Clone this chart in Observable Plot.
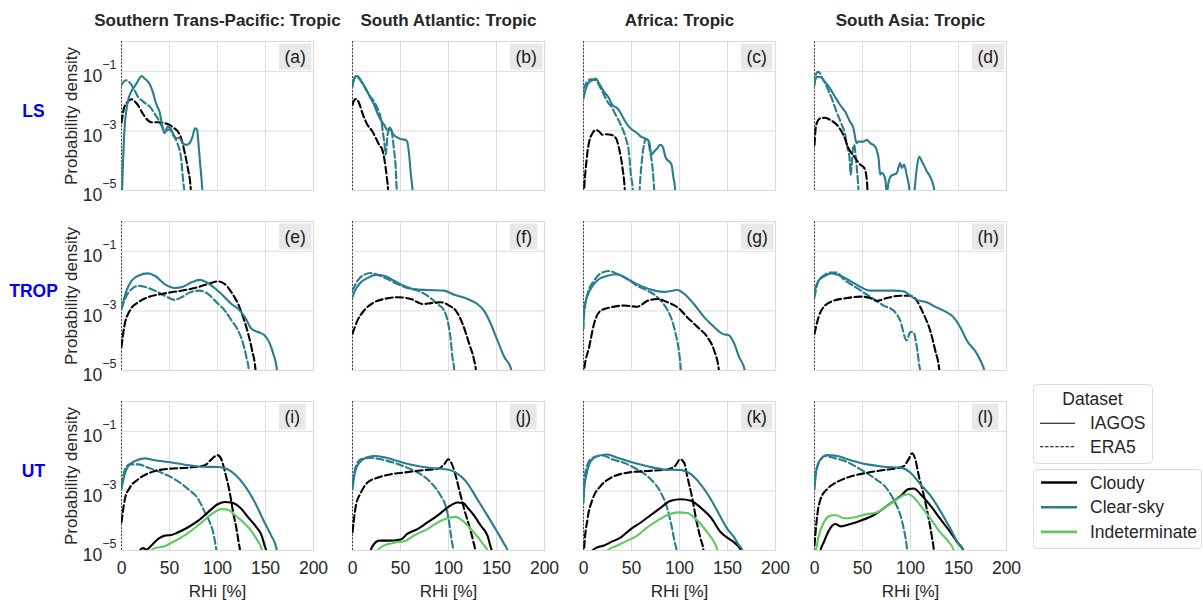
<!DOCTYPE html>
<html>
<head>
<meta charset="utf-8">
<script src="https://cdn.jsdelivr.net/npm/d3@7"></script>
<script src="https://cdn.jsdelivr.net/npm/@observablehq/plot@0.6"></script>
<style>
  html, body { margin: 0; padding: 0; background: white; }
  #wrap { position: relative; width: 1203px; height: 600px; font-family: 'Liberation Sans', Arial, sans-serif; }
  #legend { position: absolute; left: 1020px; top: 375px; }
</style>
</head>
<body>
<div id="wrap"></div>
<script>
// ---------------- DATA ----------------
const regions = ["Southern Trans-Pacific: Tropic", "South Atlantic: Tropic", "Africa: Tropic", "South Asia: Tropic"];
const layers = ["LS", "TROP", "UT"];
const panelLetters = [["a","b","c","d"],["e","f","g","h"],["i","j","k","l"]];
const classes = ["Cloudy", "Clear-sky", "Indeterminate"];
const classColors = ["#000000", "#287d8e", "#5ec962"];
const datasets = ["IAGOS", "ERA5"];
const xTicks = [0, 50, 100, 150, 200];
const yTicks = [1e-1, 1e-3, 1e-5];

// each series: [RHi %, log10(probability density)]
// (a) LS, Southern Trans-Pacific
const a_clear_iagos = [[0,-5.6],[1,-4.6],[3,-3.0],[6.6,-2.02],[10,-1.69],[13.5,-1.52],[17,-1.33],[21,-1.16],[24,-1.24],[29,-1.41],[32.6,-1.69],[36,-2.08],[39.6,-2.36],[43,-2.91],[44.8,-3.08],[48,-2.86],[51,-2.91],[53.5,-3.08],[57,-3.24],[60,-3.24],[64,-3.41],[67,-3.47],[71,-3.41],[74,-3.19],[76.7,-2.91],[78.8,-2.97],[80,-3.36],[82,-4.13],[84,-4.9],[85,-5.6]];
const a_clear_era5 = [[0,-1.45],[3,-1.33],[6,-1.3],[9,-1.4],[13,-1.6],[17,-1.85],[22,-2.0],[26,-2.1],[30,-2.2],[34,-2.4],[38,-2.6],[42,-2.85],[46,-3.0],[50,-2.95],[54,-3.15],[58,-3.4],[62,-3.9],[64,-4.6],[66,-5.2],[67,-5.6]];
const a_cloudy_era5 = [[0,-2.72],[3,-2.19],[6.6,-2.02],[10,-1.94],[13.5,-2.0],[17,-2.13],[22,-2.41],[27,-2.63],[31,-2.71],[38,-2.71],[45,-2.74],[50,-2.8],[55,-2.91],[58.7,-3.02],[62,-3.24],[65.6,-3.69],[69,-4.24],[72,-4.9],[73,-5.6]];
// (b) LS, South Atlantic
const b_clear_iagos = [[0,-1.52],[2.4,-1.19],[5.2,-1.16],[8.7,-1.3],[13.9,-1.58],[19,-1.91],[22.6,-2.13],[26,-2.41],[29.5,-2.63],[33,-2.8],[36.5,-2.97],[39,-2.89],[41.7,-3.08],[45,-3.19],[50,-3.27],[55,-3.3],[57,-3.36],[59,-3.8],[60.8,-4.47],[62.5,-4.97],[63.5,-5.6]];
const b_clear_era5 = [[0,-1.41],[3.5,-1.19],[7,-1.25],[12,-1.5],[17,-1.78],[22.6,-2.02],[26.7,-2.3],[29.5,-2.58],[31.5,-3.0],[33,-3.36],[34.7,-3.8],[36.5,-3.13],[39,-2.91],[41,-3.05],[43,-3.58],[45,-4.24],[46,-4.97],[47,-5.6]];
const b_cloudy_era5 = [[0,-2.13],[1.7,-1.97],[4,-1.93],[7,-2.08],[10.4,-2.41],[15.6,-2.8],[20.8,-3.02],[24.3,-3.24],[27.8,-3.47],[31,-3.63],[33,-3.91],[35.8,-4.58],[37,-4.97],[37.5,-5.6]];
// (c) LS, Africa
const c_clear_iagos = [[0,-1.91],[2.4,-1.58],[5.9,-1.36],[9.4,-1.3],[12.8,-1.24],[16.3,-1.41],[21.5,-1.69],[26.7,-1.91],[30,-2.13],[32.6,-2.19],[35.4,-2.24],[40.6,-2.52],[45.8,-2.8],[51,-2.97],[56,-3.08],[59.7,-3.19],[63,-3.24],[66.7,-3.3],[68.4,-3.36],[70.8,-3.8],[73.6,-3.69],[77,-3.58],[79.9,-3.47],[82.3,-3.52],[85.8,-3.91],[89,-4.02],[91.7,-4.13],[93.75,-4.58],[95.5,-4.97],[96.5,-5.6]];
const c_clear_era5 = [[0,-1.58],[3.5,-1.36],[7.6,-1.27],[12.8,-1.3],[18,-1.58],[25,-2.02],[30,-2.24],[33.7,-2.47],[38.9,-2.8],[44,-3.24],[47.6,-3.8],[49.3,-4.47],[51.4,-4.97],[53,-6],[57,-6],[58.5,-4.97],[61.5,-3.8],[65,-3.27],[66.7,-3.3],[69.4,-3.69],[71.9,-4.24],[73.6,-4.97],[74.5,-5.6]];
const c_cloudy_era5 = [[0,-5.6],[0.7,-4.97],[2.4,-4.24],[5.9,-3.36],[9.4,-3.08],[12.8,-2.97],[16.3,-3.02],[19.8,-3.13],[23.3,-3.11],[28.5,-3.13],[33.7,-3.24],[37,-3.58],[40.6,-4.24],[43,-4.97],[44,-5.6]];
// (d) LS, South Asia
const d_clear_iagos = [[0,-1.36],[2.4,-1.19],[5.9,-1.19],[11,-1.36],[16.3,-1.58],[21.5,-1.86],[26.7,-2.13],[32,-2.36],[37,-2.69],[40.6,-2.91],[42.4,-3.24],[44,-3.41],[45.8,-3.36],[51,-3.36],[54.5,-3.3],[58,-3.41],[63,-3.52],[66.7,-3.91],[68.4,-4.47],[70,-4.41],[73.6,-4.6],[75.3,-5.1],[77,-4.74],[79.5,-4.52],[82.3,-4.47],[85.8,-4.41],[89.2,-4.08],[91,-4.24],[93.4,-4.13],[96,-4.47],[98.6,-4.91],[100.5,-5.6],[102.5,-5.6],[104.5,-4.9],[106.6,-4.24],[109,-3.86],[111.8,-4.02],[114.6,-4.19],[117,-4.36],[119.4,-4.47],[121,-4.58],[123,-4.74],[124.6,-4.97],[125.5,-5.6]];
const d_clear_era5 = [[0,-1.47],[1.7,-1.08],[4.2,-1.02],[7.6,-1.19],[12.8,-1.52],[18,-1.91],[23,-2.36],[28.5,-2.8],[32,-3.13],[34.4,-3.58],[36.5,-3.91],[37.8,-4.47],[38.6,-4.2],[40,-3.6],[41.3,-3.47],[43.4,-4.02],[45,-4.6],[45.8,-4.97],[46.5,-5.6]];
const d_cloudy_era5 = [[0,-3.47],[1.7,-2.8],[5.9,-2.58],[11,-2.56],[16.3,-2.63],[25,-2.86],[30,-3.13],[35.4,-3.58],[42.4,-3.91],[47.6,-4.13],[51.7,-4.24],[53.8,-4.47],[55.2,-4.97],[56,-5.6]];
// (e) TROP, Southern Trans-Pacific
const e_clear_iagos = [[0,-2.93],[5.2,-2.32],[10.4,-1.99],[17.4,-1.82],[27.8,-1.74],[34.7,-1.82],[45,-2.1],[55.6,-2.23],[64,-2.19],[73,-2.04],[81.6,-1.96],[88.5,-2.04],[97,-2.23],[106,-2.49],[114.6,-2.77],[121.5,-2.93],[128.5,-3.21],[135.4,-3.6],[142.4,-3.71],[149,-3.82],[154.5,-4.1],[158,-4.43],[161.5,-4.88],[163,-5.6]];
const e_clear_era5 = [[0,-2.93],[5.2,-2.49],[10.4,-2.27],[17.4,-2.16],[24,-2.19],[34.7,-2.32],[45,-2.49],[55.6,-2.63],[62.5,-2.54],[73,-2.36],[81.6,-2.32],[90,-2.43],[99,-2.71],[107.6,-2.99],[114.6,-3.32],[121.5,-3.66],[126.7,-4.1],[130,-4.54],[132.6,-4.99],[133.5,-5.6]];
const e_cloudy_era5 = [[0,-4.21],[2.8,-3.54],[8.7,-2.99],[17.4,-2.71],[27.8,-2.54],[41.7,-2.43],[59,-2.34],[76.4,-2.23],[90,-2.1],[100.7,-2.01],[107.6,-2.1],[114.6,-2.38],[121.5,-2.77],[126.7,-3.21],[132,-3.77],[136,-4.32],[139.6,-4.99],[140.5,-5.6]];
// (f) TROP, South Atlantic
const f_clear_iagos = [[0,-2.54],[3.5,-2.27],[8.7,-2.04],[15.6,-1.9],[24.3,-1.79],[33,-1.82],[43.4,-1.99],[53.8,-2.16],[64,-2.27],[78,-2.3],[95.5,-2.32],[106,-2.46],[119.8,-2.6],[130,-2.77],[137,-2.99],[144,-3.43],[151,-3.99],[158,-4.54],[165,-4.93],[167,-5.6]];
const f_clear_era5 = [[0,-2.32],[5.2,-1.99],[12,-1.79],[19,-1.73],[26,-1.79],[36.5,-1.93],[47,-2.1],[57,-2.23],[67.7,-2.32],[78,-2.49],[88.5,-2.77],[95.5,-2.99],[99,-3.32],[102.4,-3.99],[104,-4.54],[106,-4.99],[107,-5.6]];
const f_cloudy_era5 = [[0,-3.77],[5.2,-3.32],[12,-2.99],[22.6,-2.71],[33,-2.6],[47,-2.54],[60.8,-2.6],[73,-2.77],[81.6,-2.74],[92,-2.71],[100.7,-2.82],[107.6,-2.99],[114.6,-3.43],[121.5,-4.1],[126.7,-4.66],[128.5,-4.99],[129.5,-5.6]];
// (g) TROP, Africa
const g_clear_iagos = [[0,-3.3],[0.7,-2.93],[4.2,-2.49],[9.4,-2.16],[16.3,-1.93],[25,-1.82],[35.4,-1.77],[45.8,-1.93],[59.7,-2.16],[74.3,-2.32],[84,-2.36],[98,-2.3],[104.9,-2.43],[115,-2.77],[125.7,-3.21],[136,-3.54],[144.8,-3.77],[151.7,-3.82],[157,-4.1],[162,-4.54],[168,-4.99],[169,-5.6]];
const g_clear_era5 = [[0,-3.6],[0.7,-3.1],[4.2,-2.43],[11,-1.99],[18,-1.74],[26.7,-1.66],[35.4,-1.77],[45.8,-1.93],[56,-2.16],[66.7,-2.32],[77,-2.54],[85.8,-2.88],[91,-3.21],[96,-3.77],[99.7,-4.43],[101.4,-4.99],[102.4,-5.6]];
const g_cloudy_era5 = [[0,-5.6],[0.7,-4.99],[5.9,-4.21],[11,-3.43],[18,-2.99],[28.5,-2.88],[42.4,-2.82],[56,-2.86],[66.7,-2.66],[77,-2.6],[87.5,-2.71],[98,-2.88],[108,-3.21],[118.75,-3.54],[129,-3.88],[136,-4.32],[141,-4.99],[142,-5.6]];
// (h) TROP, South Asia
const h_clear_iagos = [[0,-2.32],[4.2,-1.99],[11,-1.82],[18,-1.74],[26.7,-1.82],[37,-1.99],[47.6,-2.19],[58,-2.32],[68.4,-2.32],[82.3,-2.32],[92.7,-2.34],[99.7,-2.49],[106.6,-2.63],[117,-2.71],[125.7,-2.86],[134.4,-2.99],[144.8,-3.21],[151.7,-3.54],[158.7,-3.99],[169,-4.43],[174.3,-4.77],[176.7,-4.99],[178,-5.6]];
const h_clear_era5 = [[0,-2.54],[4.2,-1.99],[9.4,-1.82],[16.3,-1.71],[23.3,-1.71],[30,-1.93],[40.6,-2.16],[51,-2.38],[61.5,-2.6],[71.9,-2.82],[82.3,-2.99],[89.2,-3.32],[96,-3.99],[99.7,-3.71],[103,-3.71],[106.6,-4.21],[109.4,-4.88],[110,-4.99],[111,-5.6]];
const h_cloudy_era5 = [[0,-3.77],[4.2,-3.21],[11,-2.82],[19.8,-2.66],[33.7,-2.57],[47.6,-2.52],[58,-2.57],[65,-2.66],[75.3,-2.57],[89.2,-2.49],[99.7,-2.49],[106.6,-2.66],[113.5,-3.1],[120.5,-3.66],[125.7,-4.32],[130,-4.99],[131,-5.6]];
// (i) UT, Southern Trans-Pacific
const i_clear_iagos = [[0,-2.94],[2.8,-2.5],[7,-2.17],[13.9,-2],[24.3,-1.91],[34.7,-1.97],[48.6,-2.03],[66,-2.12],[83.3,-2.19],[100.7,-2.2],[111,-2.28],[118,-2.44],[128.5,-2.83],[139,-3.39],[149,-4.06],[156,-4.5],[161.5,-4.94],[163,-5.6]];
const i_clear_era5 = [[0,-2.83],[3.5,-2.28],[8.7,-2.11],[17.4,-2.11],[27.8,-2.22],[41.7,-2.39],[55.6,-2.61],[69.4,-2.94],[80,-3.28],[86.8,-3.72],[92,-4.06],[95.5,-4.39],[98,-4.83],[99,-5.06],[99.8,-5.6]];
const i_cloudy_era5 = [[0,-4.06],[3.5,-3.28],[8.7,-2.89],[17.4,-2.61],[31.25,-2.37],[48.6,-2.26],[69.4,-2.22],[86.8,-2.14],[93.75,-1.94],[100,-1.8],[104,-1.94],[108,-2.39],[112.8,-3.06],[116.3,-3.72],[119.8,-4.28],[122,-4.72],[123.6,-5.06],[124.5,-5.6]];
const i_cloudy_iagos = [[17,-5.6],[19,-5],[22.6,-4.92],[26,-4.97],[31.25,-4.83],[38.2,-4.61],[45,-4.5],[52,-4.48],[59,-4.39],[69.4,-4.22],[80,-4],[90,-3.72],[100.7,-3.44],[107.6,-3.37],[114.6,-3.39],[125,-3.61],[132,-3.89],[140.6,-4.22],[146,-4.5],[149,-4.83],[151,-5.06],[152,-5.6]];
const i_indet_iagos = [[27,-5.6],[29.5,-5.06],[34.7,-4.92],[45,-4.86],[52,-4.74],[62.5,-4.56],[73,-4.33],[83.3,-4.06],[93.75,-3.78],[104,-3.61],[111,-3.63],[118,-3.81],[125,-4],[133.7,-4.28],[140.6,-4.61],[146,-4.94],[147,-5.06],[148,-5.6]];
// (j) UT, South Atlantic
const j_clear_iagos = [[0,-2.94],[2.4,-2.39],[7,-2.06],[13.9,-1.89],[22.6,-1.83],[33,-1.87],[47,-2],[64,-2.14],[81.6,-2.23],[99,-2.28],[107.6,-2.39],[118,-2.67],[130,-3.28],[140.6,-3.83],[151,-4.39],[158,-4.78],[161.5,-5],[163,-5.6]];
const j_clear_era5 = [[0,-2.72],[3.5,-2.17],[8.7,-1.94],[19,-1.89],[29.5,-1.94],[43.4,-2.06],[57,-2.22],[71,-2.44],[81.6,-2.72],[92,-3.17],[97,-3.5],[100.7,-4.06],[103,-4.61],[104.9,-5],[106,-5.6]];
const j_cloudy_era5 = [[0,-4.39],[3.5,-3.5],[8.7,-3.06],[15.6,-2.72],[26,-2.56],[40,-2.44],[57,-2.37],[74.7,-2.3],[88.5,-2.26],[95.5,-2.11],[99.7,-1.94],[103,-2.06],[106.6,-2.39],[111,-2.94],[116.3,-3.61],[121.5,-4.17],[126,-4.72],[127.8,-5],[129,-5.6]];
const j_cloudy_iagos = [[17,-5.6],[19,-5],[22.6,-4.78],[27.8,-4.67],[36.5,-4.67],[50.3,-4.63],[57,-4.44],[67.7,-4.28],[78,-4.06],[88.5,-3.83],[99,-3.56],[109.4,-3.39],[115.6,-3.41],[119.8,-3.56],[126.7,-3.83],[133.7,-4.17],[140.6,-4.5],[144,-4.89],[145,-5],[146,-5.6]];
const j_indet_iagos = [[24,-5.6],[26,-5],[33,-4.83],[43.4,-4.74],[55.6,-4.67],[64,-4.5],[78,-4.28],[92,-4],[102.4,-3.89],[107.6,-3.87],[114.6,-4],[123.3,-4.28],[132,-4.61],[137,-4.83],[140.6,-5],[141.5,-5.6]];
// (k) UT, Africa
const k_clear_iagos = [[0,-3.4],[0.7,-2.94],[3.5,-2.39],[7.6,-2],[14.6,-1.83],[25,-1.78],[35.4,-1.89],[49.3,-2.03],[66.7,-2.17],[84,-2.28],[101.4,-2.3],[111.8,-2.44],[122,-2.78],[132.6,-3.28],[143,-3.89],[150,-4.28],[157,-4.56],[162,-4.83],[165.6,-5],[167,-5.6]];
const k_clear_era5 = [[0,-3.2],[0.7,-2.72],[4.2,-2.11],[9.4,-1.89],[19.8,-1.81],[30,-1.94],[42.4,-2.06],[56,-2.28],[70,-2.61],[80.6,-3.06],[87.5,-3.61],[91.7,-4.17],[95,-4.72],[97,-5],[98,-5.6]];
const k_cloudy_era5 = [[0,-5.6],[0.7,-4.94],[4.2,-3.94],[9.4,-3.28],[18,-2.83],[28.5,-2.56],[45.8,-2.39],[66.7,-2.33],[87.5,-2.28],[96,-2.14],[100.7,-1.94],[104.9,-2.06],[108,-2.5],[113.5,-3.28],[118,-4.06],[122,-4.61],[125,-5],[126,-5.6]];
const k_cloudy_iagos = [[7.5,-5.6],[9.4,-5],[14.6,-4.89],[21.5,-4.83],[28.5,-4.72],[38.9,-4.56],[49.3,-4.28],[59.7,-4.06],[70,-3.81],[80.6,-3.56],[91,-3.33],[101.4,-3.28],[111.8,-3.33],[122,-3.56],[132.6,-3.89],[143,-4.39],[151.7,-4.61],[158.7,-4.78],[163.9,-5],[165,-5.6]];
const k_indet_iagos = [[23,-5.6],[25,-5],[35.4,-4.83],[45.8,-4.67],[56,-4.5],[66.7,-4.22],[77,-4],[87.5,-3.81],[98,-3.72],[108.3,-3.74],[115,-3.89],[122,-4.11],[129,-4.39],[136,-4.72],[139.6,-5],[140.5,-5.6]];
// (l) UT, South Asia
const l_clear_iagos = [[0,-2.94],[2,-2.28],[6.25,-1.94],[13.2,-1.8],[23.6,-1.83],[37.5,-1.97],[55,-2.11],[72,-2.19],[89.6,-2.22],[100,-2.39],[110.4,-2.78],[121,-3.17],[131,-3.67],[141.7,-4.28],[150,-4.78],[155,-5],[156,-5.6]];
const l_clear_era5 = [[0,-2.61],[4.5,-2.06],[11.5,-1.83],[20,-1.89],[34,-2.03],[48,-2.28],[61.8,-2.56],[75.7,-2.94],[84,-3.39],[89.6,-3.83],[93,-4.28],[95.5,-4.72],[96.5,-5],[97.5,-5.6]];
const l_cloudy_era5 = [[0,-4.83],[2.8,-3.83],[6.25,-3.28],[13.2,-2.94],[23.6,-2.7],[37.5,-2.52],[55,-2.39],[72,-2.3],[86,-2.24],[93,-2.17],[98,-1.94],[101.7,-1.74],[105,-1.94],[108.7,-2.5],[114,-3.17],[119,-3.94],[122.6,-4.61],[124.3,-5],[125,-5.6]];
const l_cloudy_iagos = [[5,-5.6],[6.25,-5],[9.7,-4.72],[15,-4.33],[18.4,-4.17],[21.9,-4.11],[27,-4.19],[37.5,-4.11],[48,-4],[61.8,-3.81],[75.7,-3.5],[89.6,-3.17],[98,-2.94],[103.5,-2.92],[110.4,-3.11],[121,-3.5],[131,-3.94],[141.7,-4.39],[148.6,-4.72],[155,-5],[156,-5.6]];
const l_indet_iagos = [[0,-5.3],[4.5,-4.5],[9.7,-4.06],[16.7,-3.83],[21.9,-3.81],[30.6,-3.92],[41,-3.89],[55,-3.78],[65.3,-3.72],[75.7,-3.5],[86,-3.28],[93,-3.14],[98,-3.11],[103.5,-3.22],[112,-3.56],[121,-3.94],[131,-4.39],[140,-4.72],[145,-5],[146,-5.6]];

// ---------------- TABLE ----------------
const panelSeries = {
  a: {clear_iagos: a_clear_iagos, clear_era5: a_clear_era5, cloudy_era5: a_cloudy_era5},
  b: {clear_iagos: b_clear_iagos, clear_era5: b_clear_era5, cloudy_era5: b_cloudy_era5},
  c: {clear_iagos: c_clear_iagos, clear_era5: c_clear_era5, cloudy_era5: c_cloudy_era5},
  d: {clear_iagos: d_clear_iagos, clear_era5: d_clear_era5, cloudy_era5: d_cloudy_era5},
  e: {clear_iagos: e_clear_iagos, clear_era5: e_clear_era5, cloudy_era5: e_cloudy_era5},
  f: {clear_iagos: f_clear_iagos, clear_era5: f_clear_era5, cloudy_era5: f_cloudy_era5},
  g: {clear_iagos: g_clear_iagos, clear_era5: g_clear_era5, cloudy_era5: g_cloudy_era5},
  h: {clear_iagos: h_clear_iagos, clear_era5: h_clear_era5, cloudy_era5: h_cloudy_era5},
  i: {clear_iagos: i_clear_iagos, clear_era5: i_clear_era5, cloudy_era5: i_cloudy_era5, cloudy_iagos: i_cloudy_iagos, indet_iagos: i_indet_iagos},
  j: {clear_iagos: j_clear_iagos, clear_era5: j_clear_era5, cloudy_era5: j_cloudy_era5, cloudy_iagos: j_cloudy_iagos, indet_iagos: j_indet_iagos},
  k: {clear_iagos: k_clear_iagos, clear_era5: k_clear_era5, cloudy_era5: k_cloudy_era5, cloudy_iagos: k_cloudy_iagos, indet_iagos: k_indet_iagos},
  l: {clear_iagos: l_clear_iagos, clear_era5: l_clear_era5, cloudy_era5: l_cloudy_era5, cloudy_iagos: l_cloudy_iagos, indet_iagos: l_indet_iagos}
};
const seriesKeys = {cloudy_iagos: [0, 0], cloudy_era5: [0, 1], clear_iagos: [1, 0], clear_era5: [1, 1], indet_iagos: [2, 0]};

const rows = [];
const panels = [];
layers.forEach((layer, r) => regions.forEach((region, c) => {
  const letter = panelLetters[r][c];
  panels.push({region, layer, letter: `(${letter})`});
  for (const [key, pts] of Object.entries(panelSeries[letter])) {
    const [ci, di] = seriesKeys[key];
    for (const [x, lg] of pts) rows.push({region, layer, panel: letter, cls: classes[ci], ds: datasets[di], x, y: Math.pow(10, lg)});
  }
}));

const font = "'Liberation Sans', Arial, sans-serif";
const grid = "#dcdcdc";

function lineMark(ci, di) {
  return Plot.line(rows.filter(d => d.cls === classes[ci] && d.ds === datasets[di]), {
    x: "x", y: "y", fx: "region", fy: "layer", z: "panel",
    stroke: classColors[ci], strokeWidth: 2.1,
    strokeDasharray: di === 1 ? "7,3.3" : null,
    curve: "monotone-x", clip: true
  });
}

const chart = Plot.plot({
  width: 1203, height: 600,
  marginLeft: 120, marginRight: 196, marginTop: 40, marginBottom: 49,
  style: {fontFamily: font, fontSize: "17px", color: "#262626", background: "white", overflow: "visible"},
  x: {domain: [0, 200]},
  y: {type: "log", domain: [1e-5, 1]},
  fx: {domain: regions, paddingInner: 0.169, paddingOuter: 0, axis: null, label: null},
  fy: {domain: layers, paddingInner: 0.171, paddingOuter: 0, axis: null, label: null},
  marks: [
    Plot.gridX({ticks: xTicks.slice(1, -1), stroke: grid, strokeOpacity: 1, strokeWidth: 1}),
    Plot.gridY({ticks: yTicks.slice(0, -1), stroke: grid, strokeOpacity: 1, strokeWidth: 1}),
    Plot.frame({stroke: grid, strokeWidth: 1.2}),
    Plot.axisX({ticks: xTicks, tickSize: 0, tickPadding: 11, label: null, fontSize: 17.5}),
    Plot.axisY({ticks: yTicks, tickSize: 0, tickPadding: 5, label: null, fontSize: 17.5, dy: 5, tickFormat: d => String(Math.round(Math.log10(d)))}),
    Plot.ruleX([0], {stroke: "#222", strokeWidth: 0.8, strokeDasharray: "2,1.5"}),
    lineMark(1, 1),
    lineMark(0, 1),
    lineMark(0, 0),
    lineMark(2, 0),
    lineMark(1, 0),
    // panel letters
    Plot.text(panels, {fx: "region", fy: "layer", text: "letter", frameAnchor: "top-right", dx: -29, dy: 15.5,
      textAnchor: "start", lineAnchor: "middle", fontSize: 17.5, fill: "#1a1a1a"}),
    // column titles
    Plot.text(panels.filter(p => p.layer === layers[0]), {fx: "region", fy: "layer", text: "region", frameAnchor: "top",
      dy: -21, lineAnchor: "middle", fontWeight: "bold", fontSize: 17, fill: "#262626"}),
    // row labels
    Plot.text(panels.filter(p => p.region === regions[0]), {fx: "region", fy: "layer", text: "layer", frameAnchor: "left",
      dx: -88, dy: -5, textAnchor: "middle", lineAnchor: "middle", fontWeight: "bold", fontSize: 17.5, fill: "#0000ff"}),
    // y label
    Plot.text(panels.filter(p => p.region === regions[0]), {fx: "region", fy: "layer", text: () => "Probability density",
      frameAnchor: "left", dx: -50, rotate: -90, textAnchor: "middle", lineAnchor: "middle", fontSize: 17, fill: "#262626"}),
    // x label
    Plot.text(panels.filter(p => p.layer === layers[2]), {fx: "region", fy: "layer", text: () => "RHi [%]",
      frameAnchor: "bottom", dy: 41, textAnchor: "middle", lineAnchor: "middle", fontSize: 17, fill: "#262626"})
  ]
});

const wrap = document.getElementById("wrap");
wrap.appendChild(chart);
const ns = "http://www.w3.org/2000/svg";

// superscript exponent tick labels: 10^{-n}
chart.querySelectorAll('g[aria-label="y-axis tick label"] text').forEach(t => {
  const e = t.textContent;
  t.textContent = "";
  const base = document.createElementNS(ns, "tspan");
  base.textContent = "10";
  const sup = document.createElementNS(ns, "tspan");
  sup.textContent = e.replace("-", "\u2212");
  sup.setAttribute("font-size", "12.5");
  sup.setAttribute("dy", "-13");
  t.appendChild(base); t.appendChild(sup);
});

// grey boxes behind panel letters
const letterSet = new Set(panels.map(p => p.letter));
chart.querySelectorAll('text').forEach(t => {
  if (!letterSet.has(t.textContent)) return;
  const b = t.getBBox();
  const r = document.createElementNS(ns, "rect");
  r.setAttribute("x", b.x - 5.5);
  r.setAttribute("y", b.y - 3);
  r.setAttribute("width", b.width + 11);
  r.setAttribute("height", b.height + 6);
  r.setAttribute("fill", "#e8e8e8");
  if (t.getAttribute("transform")) r.setAttribute("transform", t.getAttribute("transform"));
  t.parentNode.insertBefore(r, t);
});

// legend
const lg = d3.select(wrap).append("svg").attr("id", "legend").attr("width", 183).attr("height", 185)
  .style("font-family", font).style("font-size", "17.5px");
lg.append("rect").attr("x", 13.5).attr("y", 9.5).attr("width", 119).attr("height", 79).attr("rx", 4)
  .attr("fill", "white").attr("stroke", "#dcdcdc");
lg.append("text").attr("x", 72.5).attr("y", 23.5).attr("text-anchor", "middle").attr("dy", "0.35em").attr("fill", "#262626").text("Dataset");
datasets.forEach((ds, i) => {
  const y = 48.3 + i * 23.4;
  lg.append("line").attr("x1", 20).attr("x2", 55).attr("y1", y).attr("y2", y).attr("stroke", "#000").attr("stroke-width", 1.1)
    .attr("stroke-dasharray", i === 1 ? "3.5,1.6" : null);
  lg.append("text").attr("x", 70).attr("y", y).attr("dy", "0.35em").attr("fill", "#262626").text(ds);
});
lg.append("rect").attr("x", 13.5).attr("y", 94.5).attr("width", 168).attr("height", 79).attr("rx", 4)
  .attr("fill", "white").attr("stroke", "#dcdcdc");
classes.forEach((c, i) => {
  const y = 107.5 + i * 24.7;
  lg.append("line").attr("x1", 21).attr("x2", 57).attr("y1", y).attr("y2", y).attr("stroke", classColors[i]).attr("stroke-width", 2.6);
  lg.append("text").attr("x", 70).attr("y", y).attr("dy", "0.35em").attr("fill", "#262626").text(c);
});
</script>
</body>
</html>
